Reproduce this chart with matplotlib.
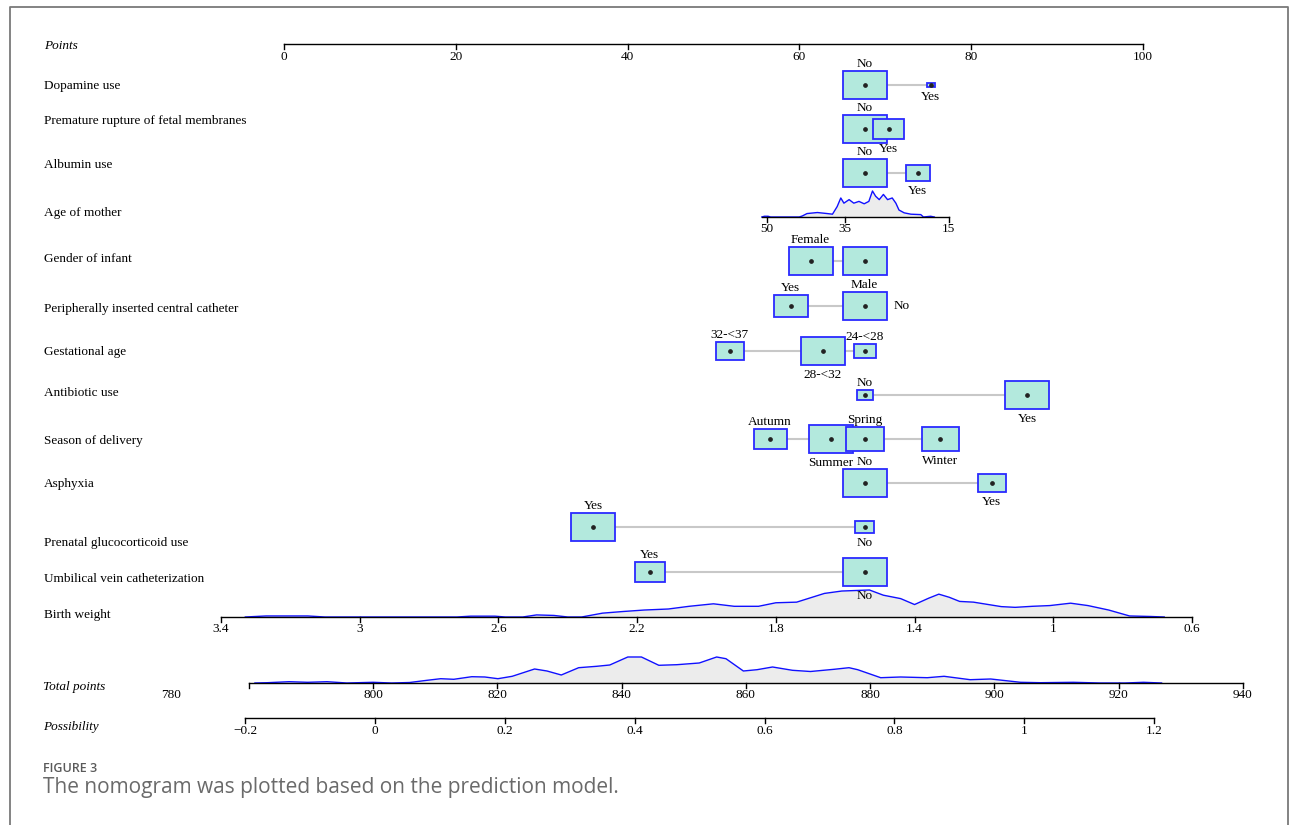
import matplotlib
matplotlib.use("Agg")
import matplotlib.pyplot as plt
from matplotlib.patches import Rectangle
from matplotlib.lines import Line2D

# ---- data ----
points_ticks = [0, 20, 40, 60, 80, 100]

dopamine_levels = ["No", "Yes"]
dopamine_pts = [67.6, 75.3]
dopamine_size = [1.0, 0.18]

prom_levels = ["No", "Yes"]
prom_pts = [67.6, 70.4]
prom_size = [1.0, 0.70]

albumin_levels = ["No", "Yes"]
albumin_pts = [67.6, 73.8]
albumin_size = [1.0, 0.55]

gender_levels = ["Female", "Male"]
gender_pts = [61.3, 67.6]
gender_size = [1.0, 1.0]

picc_levels = ["Yes", "No"]
picc_pts = [59.0, 67.6]
picc_size = [0.77, 1.0]

gest_levels = ["32-<37", "28-<32", "24-<28"]
gest_pts = [51.9, 62.7, 67.6]
gest_size = [0.63, 1.0, 0.5]

antibiotic_levels = ["No", "Yes"]
antibiotic_pts = [67.6, 86.5]
antibiotic_size = [0.36, 1.0]

season_levels = ["Autumn", "Summer", "Spring", "Winter"]
season_pts = [56.6, 63.7, 67.6, 76.4]
season_size = [0.75, 1.0, 0.86, 0.84]

asphyxia_levels = ["No", "Yes"]
asphyxia_pts = [67.6, 82.4]
asphyxia_size = [1.0, 0.65]

gluco_levels = ["Yes", "No"]
gluco_pts = [36.0, 67.6]
gluco_size = [1.0, 0.43]

uvc_levels = ["Yes", "No"]
uvc_pts = [42.6, 67.6]
uvc_size = [0.70, 1.0]

# continuous: age of mother (years)
age_ticks = [50, 35, 15]
age_dens_x = [51.0, 50.5, 49.8, 49.3, 43.8, 43.2, 42.3, 40.3, 38.4, 37.4, 36.5, 35.8,
              35.2, 34.2, 33.3, 32.3, 31.3, 30.4, 29.7, 29.1, 28.4, 27.6, 26.8, 25.9,
              25.2, 24.6, 23.6, 22.3, 20.4, 19.9, 18.5, 17.8]
age_dens_y = [0, 0.7, 0.7, 0, 0, 1, 3.3, 4.3, 3.3, 2.7, 10, 18.3,
              13.3, 16.7, 13.3, 15, 12.7, 15, 25, 20, 16.7, 21.7, 16.7, 18.3,
              13.3, 6.7, 4, 2.7, 2.3, 0, 0.7, 0]

# continuous: birth weight (kg)
weight_ticks = [3.4, 3, 2.6, 2.2, 1.8, 1.4, 1, 0.6]
weight_dens_x = [3.33, 3.27, 3.15, 3.10, 2.72, 2.68, 2.61, 2.58, 2.53, 2.49, 2.44, 2.40,
                 2.36, 2.30, 2.24, 2.18, 2.11, 2.05, 1.98, 1.92, 1.85, 1.80, 1.74, 1.66,
                 1.61, 1.53, 1.49, 1.44, 1.40, 1.36, 1.33, 1.30, 1.27, 1.23, 1.15, 1.11,
                 1.06, 1.01, 0.95, 0.90, 0.84, 0.78, 0.72, 0.68]
weight_dens_y = [0, 1, 1, 0, 0, 0.8, 0.8, 0, 0, 2, 1.5, 0,
                 0, 3.7, 5.3, 6.7, 7.7, 10.3, 12.7, 10.3, 10.3, 13.7, 14.3, 22.7,
                 25, 26, 21, 17.7, 12, 18, 22, 19, 15, 14.3, 10, 9.3,
                 10.3, 11, 13.3, 11, 6.7, 1, 0.5, 0]

# total points
total_ticks = [780, 800, 820, 840, 860, 880, 900, 920, 940]
total_dens_x = [781, 783, 786.5, 789.5, 792.6, 795.8, 800, 803, 805.9, 808.7, 810.9, 813,
                815.9, 818, 820.1, 822.4, 826, 828, 830.3, 833.1, 836, 838.1, 841, 843.2,
                846, 848.9, 852.5, 855.3, 856.8, 859.6, 861.8, 864.3, 867.5, 870.4, 874.2,
                876.6, 878, 881.7, 884.9, 889.2, 891.9, 896.1, 899.4, 904.2, 907.4, 912.7,
                917, 921, 924, 926.9]
total_dens_y = [0, 0.3, 1.3, 0.7, 1.3, 0, 0.7, 0, 0.5, 2.7, 4.3, 3.7,
                6.3, 6, 4.3, 6.7, 14, 12, 8, 15.3, 16.7, 18, 26, 26,
                17.7, 18.3, 20, 26, 24.3, 12, 13.3, 16, 12.7, 11.5, 13.7,
                15.3, 13.3, 5.3, 6, 5.3, 6.7, 3.3, 4, 0.7, 0.3, 0.7,
                0, 0, 0.7, 0]

# possibility
poss_ticks = [-0.2, 0, 0.2, 0.4, 0.6, 0.8, 1, 1.2]

cat_vars = [
    ("Dopamine use", dopamine_levels, dopamine_pts, dopamine_size),
    ("Premature rupture of fetal membranes", prom_levels, prom_pts, prom_size),
    ("Albumin use", albumin_levels, albumin_pts, albumin_size),
    ("Gender of infant", gender_levels, gender_pts, gender_size),
    ("Peripherally inserted central catheter", picc_levels, picc_pts, picc_size),
    ("Gestational age", gest_levels, gest_pts, gest_size),
    ("Antibiotic use", antibiotic_levels, antibiotic_pts, antibiotic_size),
    ("Season of delivery", season_levels, season_pts, season_size),
    ("Asphyxia", asphyxia_levels, asphyxia_pts, asphyxia_size),
    ("Prenatal glucocorticoid use", gluco_levels, gluco_pts, gluco_size),
    ("Umbilical vein catheterization", uvc_levels, uvc_pts, uvc_size),
]

# ---- layout (pixels) ----
W, H = 1290, 825
PT0 = 284.0          # pixel x of 0 points
PT_PX = 8.59         # pixels per point
cat_row_y = [85, 129, 173, 261, 306, 351, 395, 439, 483, 527, 572]
cat_label_y = [84, 119, 163, 257, 307, 350, 391, 439, 482, 541, 577]
label_override = {("Peripherally inserted central catheter", "No"): "right"}
BOX_W = 44 / PT_PX
BOX_H = 27.5
FS = 9.5
LDY = 2              # row-label nudge
SERIF = ["Liberation Serif", "DejaVu Serif"]

plt.rcParams["font.family"] = SERIF

def scale(v0, p0, v1, p1):
    k = (p1 - p0) / (v1 - v0)
    return lambda v: p0 + (v - v0) * k

age_to_pts = scale(50, 56.23, 15, 77.40)
weight_to_pts = scale(3.4, -7.33, 0.6, 105.70)
total_to_pts = scale(800, 10.36, 940, 111.64)
poss_to_pts = scale(0, 10.59, 1, 86.18)

fig = plt.figure(figsize=(W / 100, H / 100), dpi=100)
ax = fig.add_axes([0, 0, 1, 1])
ax.set_xlim(-PT0 / PT_PX, (W - PT0) / PT_PX)
ax.set_ylim(H, 0)
ax.axis("off")
lab_tr = ax.get_yaxis_transform()
LAB_X = 44 / W


def row_label(y, text, italic=False, dx=0):
    ax.text(LAB_X + dx / W, y + LDY, text, transform=lab_tr, fontsize=FS,
            style="italic" if italic else "normal", va="center")


def draw_axis(y, fn, ticks, labels=None, start=None, end=None, tick_len=5):
    lo = fn(ticks[0]) if start is None else fn(start)
    hi = fn(ticks[-1]) if end is None else fn(end)
    ax.plot([lo, hi], [y, y], color="black", lw=1.0, zorder=3)
    for i, t in enumerate(ticks):
        x = fn(t)
        ax.plot([x, x], [y, y + tick_len], color="black", lw=1.0, zorder=3)
        lab = labels[i] if labels is not None else f"{t:g}".replace("-", "\u2212")
        ax.text(x, y + 6.5, lab, ha="center", va="top", fontsize=FS)


def draw_density(y, fn, xs, ys, max_h=26):
    top = max(ys)
    px = [fn(v) for v in xs]
    py = [y - v / top * max_h for v in ys]
    ax.fill_between(px, y, py, color="#ececec", lw=0, zorder=1)
    ax.plot(px, py, color="#1010ff", lw=1.0, zorder=2)


# Points
row_label(44, "Points", italic=True)
draw_axis(44, lambda v: v, points_ticks)

# categorical rows
for (name, levels, pts, size), y, ly in zip(cat_vars, cat_row_y, cat_label_y):
    row_label(ly, name)
    ax.plot([min(pts), max(pts)], [y, y], color="#c8c8c8", lw=1.5, zorder=1)
    order = sorted(range(len(pts)), key=lambda i: pts[i])
    side_of = {i: ("above" if k % 2 == 0 else "below") for k, i in enumerate(order)}
    for i, (lev, p, s) in enumerate(zip(levels, pts, size)):
        bw, bh = BOX_W * s, BOX_H * s
        ax.add_patch(Rectangle((p - bw / 2, y - bh / 2), bw, bh, facecolor="#b3e9dd",
                               edgecolor="#2a2aff", lw=1.3, zorder=4 + i))
        ax.plot(p, y, "o", ms=2.4, color="#222222", zorder=4 + i)
        side = label_override.get((name, lev), side_of[i])
        if side == "above":
            ax.text(p, y - bh / 2 - 1, lev, ha="center", va="bottom", fontsize=FS, zorder=20)
        elif side == "below":
            ax.text(p, y + bh / 2 + 4, lev, ha="center", va="top", fontsize=FS, zorder=20)
        else:
            ax.text(p + bw / 2 + 7 / PT_PX, y, lev, ha="left", va="center", fontsize=FS, zorder=20)

# Age of mother
row_label(211, "Age of mother")
draw_density(217, age_to_pts, age_dens_x, age_dens_y)
draw_axis(217, age_to_pts, age_ticks, start=51)

# Birth weight
row_label(613, "Birth weight")
draw_density(617, weight_to_pts, weight_dens_x, weight_dens_y, max_h=27)
draw_axis(617, weight_to_pts, weight_ticks)

# Total points
row_label(685, "Total points", italic=True, dx=-1)
draw_density(683, total_to_pts, total_dens_x, total_dens_y)
total_labels = [""] + [str(t) for t in total_ticks[1:]]
draw_axis(683, total_to_pts, total_ticks, labels=total_labels)
ax.annotate(str(total_ticks[0]), (total_to_pts(total_ticks[0]), 689.5),
            xytext=(-56, 0), textcoords="offset points", ha="center", va="top", fontsize=FS)

# Possibility
row_label(725, "Possibility", italic=True, dx=-1)
draw_axis(718, poss_to_pts, poss_ticks)

# outer frame
fx = lambda p: p / W
fy = lambda p: 1 - p / H
fig.add_artist(Line2D([fx(10), fx(10), fx(1288), fx(1288)], [0, fy(7), fy(7), 0],
                      transform=fig.transFigure, color="#7a7a7a", lw=1.3))

# caption
fig.text(fx(43), fy(768), "FIGURE 3", fontsize=9, color="#5a5a5a",
         family=["Open Sans", "DejaVu Sans"], va="center", weight="semibold")
fig.text(fx(43), fy(788), "The nomogram was plotted based on the prediction model.",
         fontsize=15, color="#6a6a6a", family=["Open Sans", "DejaVu Sans"],
         va="center")

fig.savefig("out.png", dpi=100)
